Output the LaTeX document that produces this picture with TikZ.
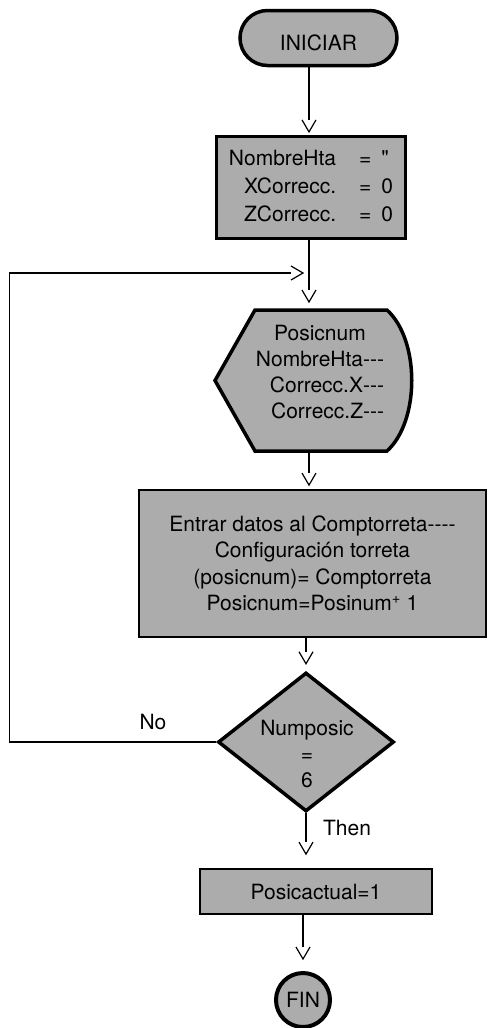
\documentclass[tikz,border=0pt]{standalone}
\usepackage{fontspec}
\setmainfont{TeX Gyre Heros}
% same face without TeX input ligatures, for the straight quote mark
\newfontfamily\rawfont{TeX Gyre Heros}
\usetikzlibrary{shapes.geometric,arrows.meta,calc}

% open chevron tip; the shaft stops at the back of the chevron
\pgfdeclarearrow{
  name = OpenVee,
  setup code = {
    \pgfarrowssettipend{0pt}
    \pgfarrowssetlineend{-12pt}
    \pgfarrowssetbackend{-12pt}
    \pgfarrowshullpoint{0pt}{0pt}
    \pgfarrowshullpoint{-12pt}{7pt}
    \pgfarrowshullpoint{-12pt}{-7pt}
  },
  drawing code = {
    \pgfsetdash{}{0pt}
    \pgfsetmiterjoin
    \pgfpathmoveto{\pgfqpoint{-12pt}{7pt}}
    \pgfpathlineto{\pgfqpoint{0pt}{0pt}}
    \pgfpathlineto{\pgfqpoint{-12pt}{-7pt}}
    \pgfusepathqstroke
  },
}

\definecolor{boxgray}{RGB}{172,172,172}
\newcommand{\hy}{\mbox{-}}

\tikzset{
  every node/.style={font=\fontsize{21}{26}\selectfont, inner sep=0pt},
  term/.style={rectangle, draw, line width=3.5pt, fill=boxgray,
    rounded corners=27.5pt, minimum width=157pt, minimum height=55pt},
  heavybox/.style={rectangle, draw, line width=3.2pt, fill=boxgray},
  lightbox/.style={rectangle, draw, line width=1.8pt, fill=boxgray},
  decision/.style={diamond, draw, line width=3.5pt, fill=boxgray,
    minimum width=176pt, minimum height=139pt},
  heavyline/.style={draw, line width=3.5pt, fill=boxgray, line join=miter},
  flow/.style={line width=1.2pt, -{OpenVee}},
  lbl/.style={align=center},
}

\begin{document}
\begin{tikzpicture}[x=1pt, y=-1pt]
  \useasboundingbox (0,0) rectangle (489,1028);
  \coordinate (axis) at (309,0);

  % start terminal
  \node[term, text height=24pt, text depth=0pt] (start) at (318.5,38) {INICIAR};

  % initialisation block
  \node[heavybox, minimum width=189pt, minimum height=102pt] (init) at (311,187.5)
    {\def\arraystretch{1.08}%
     \begin{tabular}{@{}r@{\hspace{23pt}}c@{\hspace{10pt}}l@{}}
       NombreHta & = & {\rawfont"} \\
       XCorrecc. & = & 0 \\
       ZCorrecc. & = & 0
     \end{tabular}};

  % display symbol
  \node[rectangle, minimum width=196pt, minimum height=141pt, outer sep=0pt] (disp) at (313,380.5) {};
  \path[heavyline] (disp.west) -- ($(disp.north west)+(40,0)$)
    -- ($(disp.north east)+(-24,0)$)
    .. controls ($(disp.north east)+(9,30)$) and ($(disp.south east)+(9,-30)$)
    .. ($(disp.south east)+(-24,0)$)
    -- ($(disp.south west)+(40,0)$) -- cycle;
  \node[lbl] (dispText) at (320,374)
    {\begin{tabular}{@{}r@{}}
       \multicolumn{1}{@{}c@{}}{Posicnum} \\
       NombreHta\hy\hy\hy \\
       Correcc.X\hy\hy\hy \\
       Correcc.Z\hy\hy\hy
     \end{tabular}};

  % processing block
  \node[lightbox, lbl, minimum width=347pt, minimum height=147pt,
        font=\fontsize{21}{26.5}\selectfont] (proc) at (312.5,563.5)
    {Entrar datos al Comptorreta\hy\hy\hy\hy\\
     Configuración torreta\\
     (posicnum)= Comptorreta\\
     Posicnum=Posinum\textsuperscript{+} 1};

  % decision
  \node[decision] (dec) at (306,742) {};
  \node[lbl] (decText) at (307,754) {Numposic\\=\\6};

  % final assignment and end
  \node[lightbox, minimum width=232pt, minimum height=45pt] (final) at (316,891.5)
    {Posicactual=1\hspace{12pt}};
  \node[circle, draw, line width=4pt, fill=boxgray, minimum size=54pt] (fin) at (303,1000) {FIN};

  % branch labels
  \node (noLbl) at (153,722) {No};
  \node (thenLbl) at (347,828) {Then};

  % connectors
  \draw[flow, shorten >=3pt] (start.south -| axis) -- (init.north -| axis);
  \draw[flow, shorten >=8pt] (init.south -| axis) -- (disp.north -| axis);
  \draw[flow, shorten >=4pt] (disp.south -| axis) -- (proc.north -| axis);
  \draw[flow, shorten >=7pt] (proc.south -| dec.north) -- (dec.north);
  \draw[flow, shorten >=14pt] (dec.south) -- (final.north -| dec.south);
  \draw[flow, shorten >=12pt] (final.south -| fin.north) -- (fin.north);

  % loop back to the display step
  \coordinate (merge) at (303,273);
  \draw[flow] (dec.west) -- ++(-207,0) |- (merge);
\end{tikzpicture}
\end{document}
